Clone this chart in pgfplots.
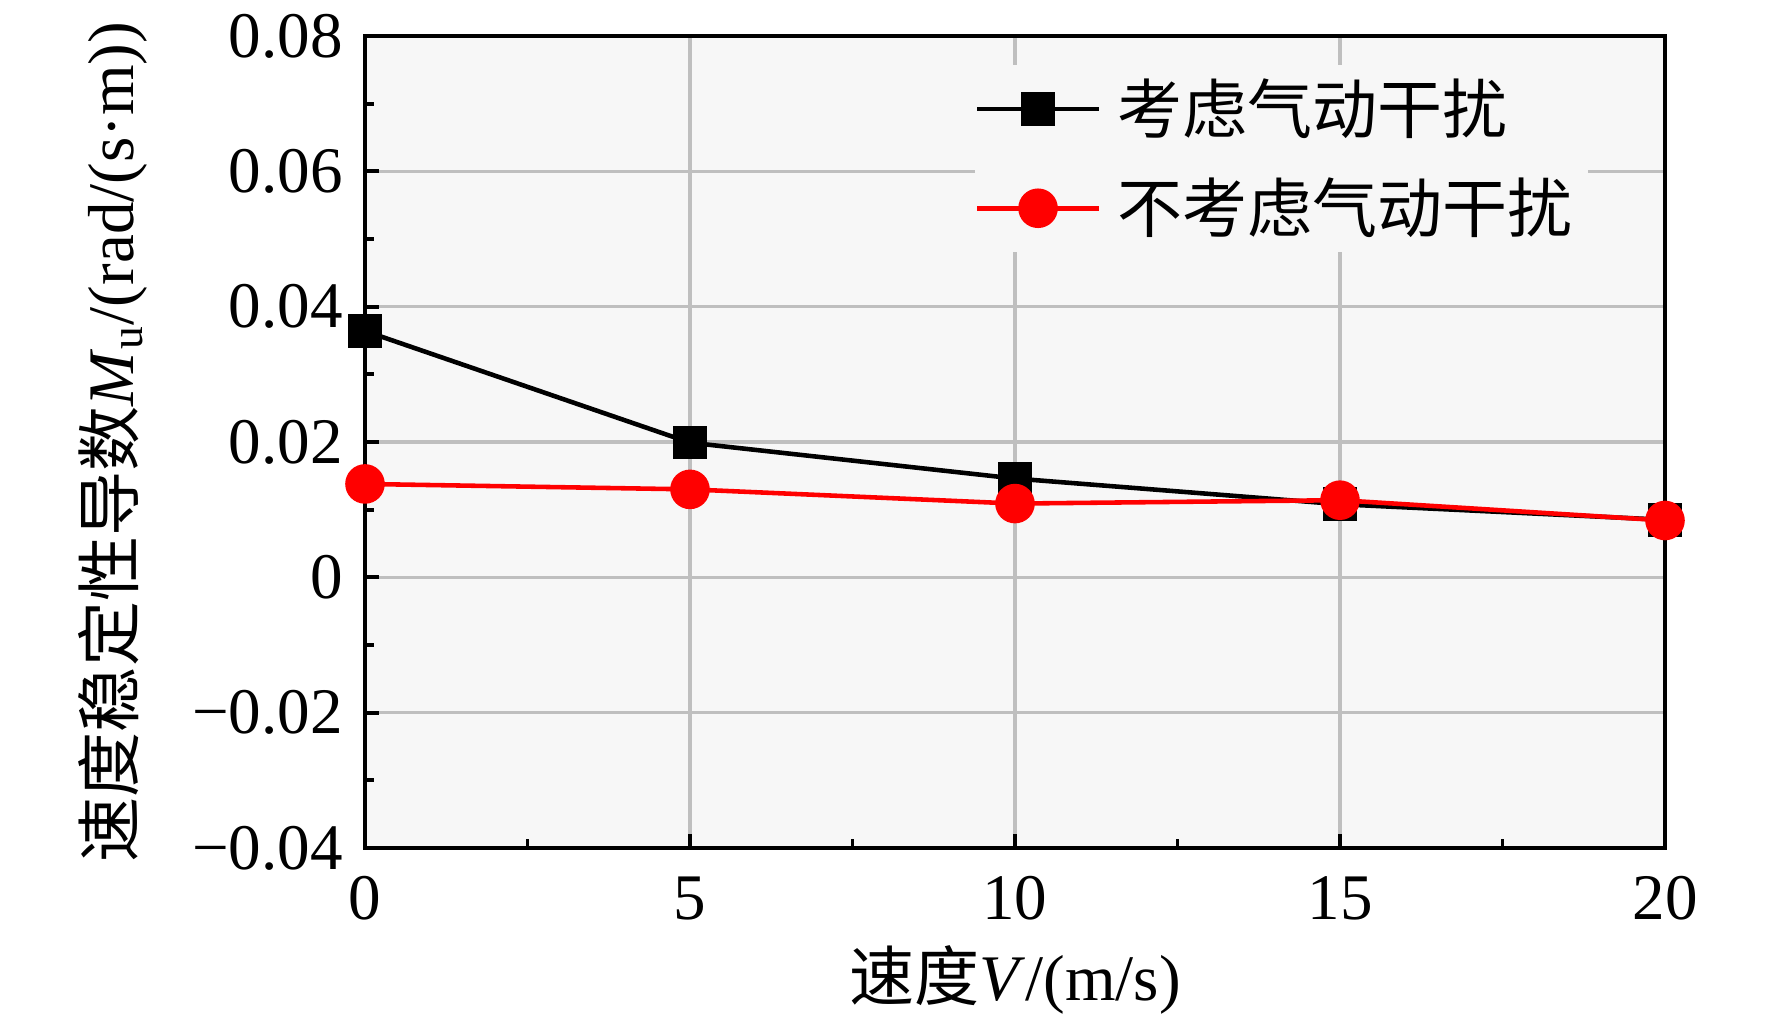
\documentclass[border=0pt]{standalone}
\usepackage{fontspec}
\setmainfont{Liberation Serif}
\newfontfamily\cjk{Noto Sans CJK SC}
\usepackage{pgfplots}
\pgfplotsset{compat=1.18}
\begin{document}
\begin{tikzpicture}
\useasboundingbox (-36.5mm,-17.3mm) rectangle (140.7mm,84.8mm);
\begin{axis}[
 at={(0,0)}, anchor=south west,
 scale only axis, width=130mm, height=81.2mm,
 xmin=0, xmax=20, ymin=-0.04, ymax=0.08,
 scaled y ticks=false, scaled x ticks=false,
 xtick={0,5,10,15,20},
 xticklabels={0,5,10,15,20},
 ytick={-0.04,-0.02,0,0.02,0.04,0.06,0.08},
 yticklabels={−0.04,−0.02,0,0.02,0.04,0.06,0.08},
 minor x tick num=1, minor y tick num=1,
 tick pos=left, tick align=inside,
 major tick length=1.4mm, minor tick length=0.9mm,
 grid=major, grid style={color=black!25, line width=1pt},
 axis line style={line width=1.1pt},
 every tick/.style={black, line width=1.1pt},
 axis background/.style={fill=black!3},
 tick label style={font=\fontsize{18.5}{22}\selectfont},
 xticklabel style={yshift=-1.6mm},
 yticklabel style={xshift=-1mm},
 every axis y label/.style={at={(axis description cs:0,0.5)}, xshift=-25.2mm, rotate=90, anchor=center},
 every axis x label/.style={at={(axis description cs:0.5,0)}, yshift=-13.2mm, anchor=center},
 label style={font=\fontsize{18.5}{22}\selectfont},
 xlabel={{\cjk 速度}\textit{V}/(m/s)},
 ylabel={{\cjk 速度稳定性导数}\textit{M}\textsubscript{u}/(rad/(s·m))},
 legend style={at={(axis description cs:0.4685,0.965)}, anchor=north west, draw=none, fill=black!3,
   font=\fontsize{18.5}{22}\selectfont\cjk, row sep=2.5mm, inner xsep=0pt,
   nodes={inner xsep=4.5pt}},
 legend cell align=left,
 legend image code/.code={\draw[#1, mark repeat=2, mark phase=2] plot coordinates {(0mm,0mm) (6.1mm,0mm) (12.2mm,0mm)};},
]
\addplot[black, line width=1.3pt, mark=square*, mark size=1.45mm, mark options={solid}] coordinates {
 (0,0.0364) (5,0.0199) (10,0.0146) (15,0.0108) (20,0.0085)};
\addlegendentry{考虑气动干扰}
\addplot[red, line width=1.3pt, mark=*, mark size=1.75mm, mark options={solid, fill=red, draw=red}] coordinates {
 (0,0.0138) (5,0.0130) (10,0.0109) (15,0.0114) (20,0.0084)};
\addlegendentry{不考虑气动干扰}
\end{axis}
\end{tikzpicture}
\end{document}
